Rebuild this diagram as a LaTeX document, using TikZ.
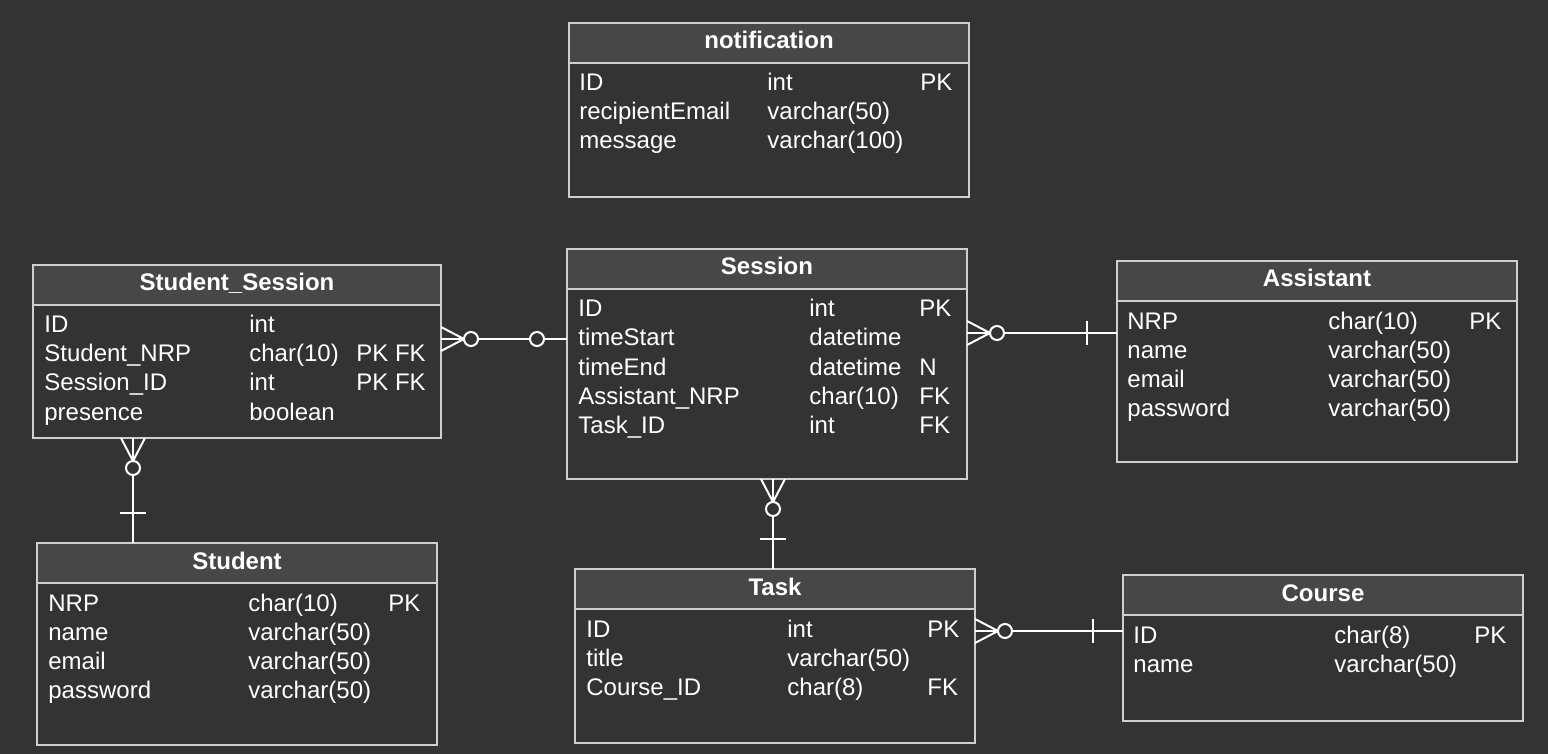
\documentclass[tikz,border=0pt]{standalone}
\usepackage{fontspec}
\setmainfont{Liberation Sans}
\usepackage{tikz}
\usetikzlibrary{calc}
\definecolor{bgdark}{HTML}{333333}
\definecolor{headfill}{HTML}{474747}
\definecolor{tblline}{HTML}{CFCFCF}
\tikzset{
    tbl/.style={draw=tblline, line width=1pt, fill=bgdark, anchor=north west, inner sep=0pt, outer sep=0pt, minimum width=200pt},
    tblhead/.style={draw=tblline, line width=1pt, fill=headfill, anchor=north west, inner sep=0pt, outer sep=0pt, minimum width=200pt, minimum height=20pt},
    headtxt/.style={anchor=base, inner sep=0pt, text=white, font=\fontsize{12}{14}\selectfont\bfseries},
    cell/.style={anchor=base west, inner sep=0pt, text=white, font=\fontsize{12}{14}\selectfont},
    link/.style={draw=white, line width=1pt},
}
\begin{document}
\begin{tikzpicture}[x=0.5pt, y=-0.5pt]
    \fill[bgdark] (0,0) rectangle (1548,754);
    \useasboundingbox (0,0) rectangle (1548,754);

    % notification
    \node[tbl, minimum height=87pt] (nt) at (569,23) {};
    \node[tblhead] (nt-h) at (nt.north west) {};
    \node[headtxt] (nt-t) at ($(nt.north)+(0,26)$) {notification};
    \foreach \nm/\ty/\ky [count=\i] in {ID/int/PK, recipientEmail/varchar(50)/, message/varchar(100)/}{
        \node[cell] (nt-n\i) at ($(nt-h.south west)+(10,29*\i-1)$) {\nm};
        \node[cell] (nt-y\i) at ($(nt-h.south west)+(198,29*\i-1)$) {\ty};
        \node[cell] (nt-k\i) at ($(nt-h.south west)+(351,29*\i-1)$) {\ky};
    }

    % Session
    \node[tbl, minimum height=115pt] (se) at (567,249) {};
    \node[tblhead] (se-h) at (se.north west) {};
    \node[headtxt] (se-t) at ($(se.north)+(0,26)$) {Session};
    \foreach \nm/\ty/\ky [count=\i] in {ID/int/PK, timeStart/datetime/, timeEnd/datetime/N, Assistant\_NRP/char(10)/FK, Task\_ID/int/FK}{
        \node[cell] (se-n\i) at ($(se-h.south west)+(11,29*\i-1)$) {\nm};
        \node[cell] (se-y\i) at ($(se-h.south west)+(242,29*\i-1)$) {\ty};
        \node[cell] (se-k\i) at ($(se-h.south west)+(352,29*\i-1)$) {\ky};
    }

    % Student_Session
    \node[tbl, minimum width=204pt, minimum height=86.5pt] (ss) at (33,265) {};
    \node[tblhead, minimum width=204pt] (ss-h) at (ss.north west) {};
    \node[headtxt] (ss-t) at ($(ss.north)+(0,26)$) {Student\_Session};
    \foreach \nm/\ty/\ky [count=\i] in {ID/int/, Student\_NRP/char(10)/PK FK, Session\_ID/int/PK FK, presence/boolean/}{
        \node[cell] (ss-n\i) at ($(ss-h.south west)+(11,29*\i-1)$) {\nm};
        \node[cell] (ss-y\i) at ($(ss-h.south west)+(216,29*\i-1)$) {\ty};
        \node[cell] (ss-k\i) at ($(ss-h.south west)+(323,29*\i-1)$) {\ky};
    }

    % Assistant
    \node[tbl, minimum height=100.5pt] (as) at (1117,261) {};
    \node[tblhead] (as-h) at (as.north west) {};
    \node[headtxt] (as-t) at ($(as.north)+(0,26)$) {Assistant};
    \foreach \nm/\ty/\ky [count=\i] in {NRP/char(10)/PK, name/varchar(50)/, email/varchar(50)/, password/varchar(50)/}{
        \node[cell] (as-n\i) at ($(as-h.south west)+(10,29*\i-1)$) {\nm};
        \node[cell] (as-y\i) at ($(as-h.south west)+(211,29*\i-1)$) {\ty};
        \node[cell] (as-k\i) at ($(as-h.south west)+(352,29*\i-1)$) {\ky};
    }

    % Student
    \node[tbl, minimum height=101pt] (st) at (37,543) {};
    \node[tblhead] (st-h) at (st.north west) {};
    \node[headtxt] (st-t) at ($(st.north)+(0,26)$) {Student};
    \foreach \nm/\ty/\ky [count=\i] in {NRP/char(10)/PK, name/varchar(50)/, email/varchar(50)/, password/varchar(50)/}{
        \node[cell] (st-n\i) at ($(st-h.south west)+(11,29*\i-1)$) {\nm};
        \node[cell] (st-y\i) at ($(st-h.south west)+(211,29*\i-1)$) {\ty};
        \node[cell] (st-k\i) at ($(st-h.south west)+(351,29*\i-1)$) {\ky};
    }

    % Task
    \node[tbl, minimum height=87pt] (tk) at (575,569) {};
    \node[tblhead] (tk-h) at (tk.north west) {};
    \node[headtxt] (tk-t) at ($(tk.north)+(0,26)$) {Task};
    \foreach \nm/\ty/\ky [count=\i] in {ID/int/PK, title/varchar(50)/, Course\_ID/char(8)/FK}{
        \node[cell] (tk-n\i) at ($(tk-h.south west)+(11,29*\i-1)$) {\nm};
        \node[cell] (tk-y\i) at ($(tk-h.south west)+(212,29*\i-1)$) {\ty};
        \node[cell] (tk-k\i) at ($(tk-h.south west)+(352,29*\i-1)$) {\ky};
    }

    % Course
    \node[tbl, minimum height=73pt] (co) at (1123,575) {};
    \node[tblhead] (co-h) at (co.north west) {};
    \node[headtxt] (co-t) at ($(co.north)+(0,26)$) {Course};
    \foreach \nm/\ty/\ky [count=\i] in {ID/char(8)/PK, name/varchar(50)/}{
        \node[cell] (co-n\i) at ($(co-h.south west)+(10,29*\i-1)$) {\nm};
        \node[cell] (co-y\i) at ($(co-h.south west)+(211,29*\i-1)$) {\ty};
        \node[cell] (co-k\i) at ($(co-h.south west)+(351,29*\i-1)$) {\ky};
    }

    % Student_Session -- Session
    \draw[link] (ss.east |- 0,339) coordinate (l1a) -- (se.west |- 0,339) coordinate (l1b);
    \draw[link] (l1a) ++(0,-12) -- ++(23,12) -- ++(-23,12);
    \draw[link, fill=bgdark] ($(l1a)+(30,0)$) circle[radius=3.5pt];
    \draw[link, fill=bgdark] ($(l1b)+(-30,0)$) circle[radius=3.5pt];

    % Session -- Assistant
    \draw[link] (se.east |- 0,333) coordinate (l2a) -- (as.west |- 0,333) coordinate (l2b);
    \draw[link] (l2a) ++(0,-12) -- ++(23,12) -- ++(-23,12);
    \draw[link, fill=bgdark] ($(l2a)+(30,0)$) circle[radius=3.5pt];
    \draw[link] ($(l2b)+(-30,-12)$) -- ++(0,24);

    % Session -- Task
    \draw[link] (773,0 |- se.south) coordinate (l3a) -- (773,0 |- tk.north) coordinate (l3b);
    \draw[link] (l3a) ++(-12,0) -- ++(12,23) -- ++(12,-23);
    \draw[link, fill=bgdark] ($(l3a)+(0,30)$) circle[radius=3.5pt];
    \draw[link] ($(l3b)+(-13,-30)$) -- ++(26,0);

    % Student_Session -- Student
    \draw[link] (133,0 |- ss.south) coordinate (l4a) -- (133,0 |- st.north) coordinate (l4b);
    \draw[link] (l4a) ++(-12,0) -- ++(12,23) -- ++(12,-23);
    \draw[link, fill=bgdark] ($(l4a)+(0,30)$) circle[radius=3.5pt];
    \draw[link] ($(l4b)+(-13,-30)$) -- ++(26,0);

    % Task -- Course
    \draw[link] (tk.east |- 0,631) coordinate (l5a) -- (co.west |- 0,631) coordinate (l5b);
    \draw[link] (l5a) ++(0,-12) -- ++(23,12) -- ++(-23,12);
    \draw[link, fill=bgdark] ($(l5a)+(30,0)$) circle[radius=3.5pt];
    \draw[link] ($(l5b)+(-30,-12)$) -- ++(0,24);

\end{tikzpicture}
\end{document}
